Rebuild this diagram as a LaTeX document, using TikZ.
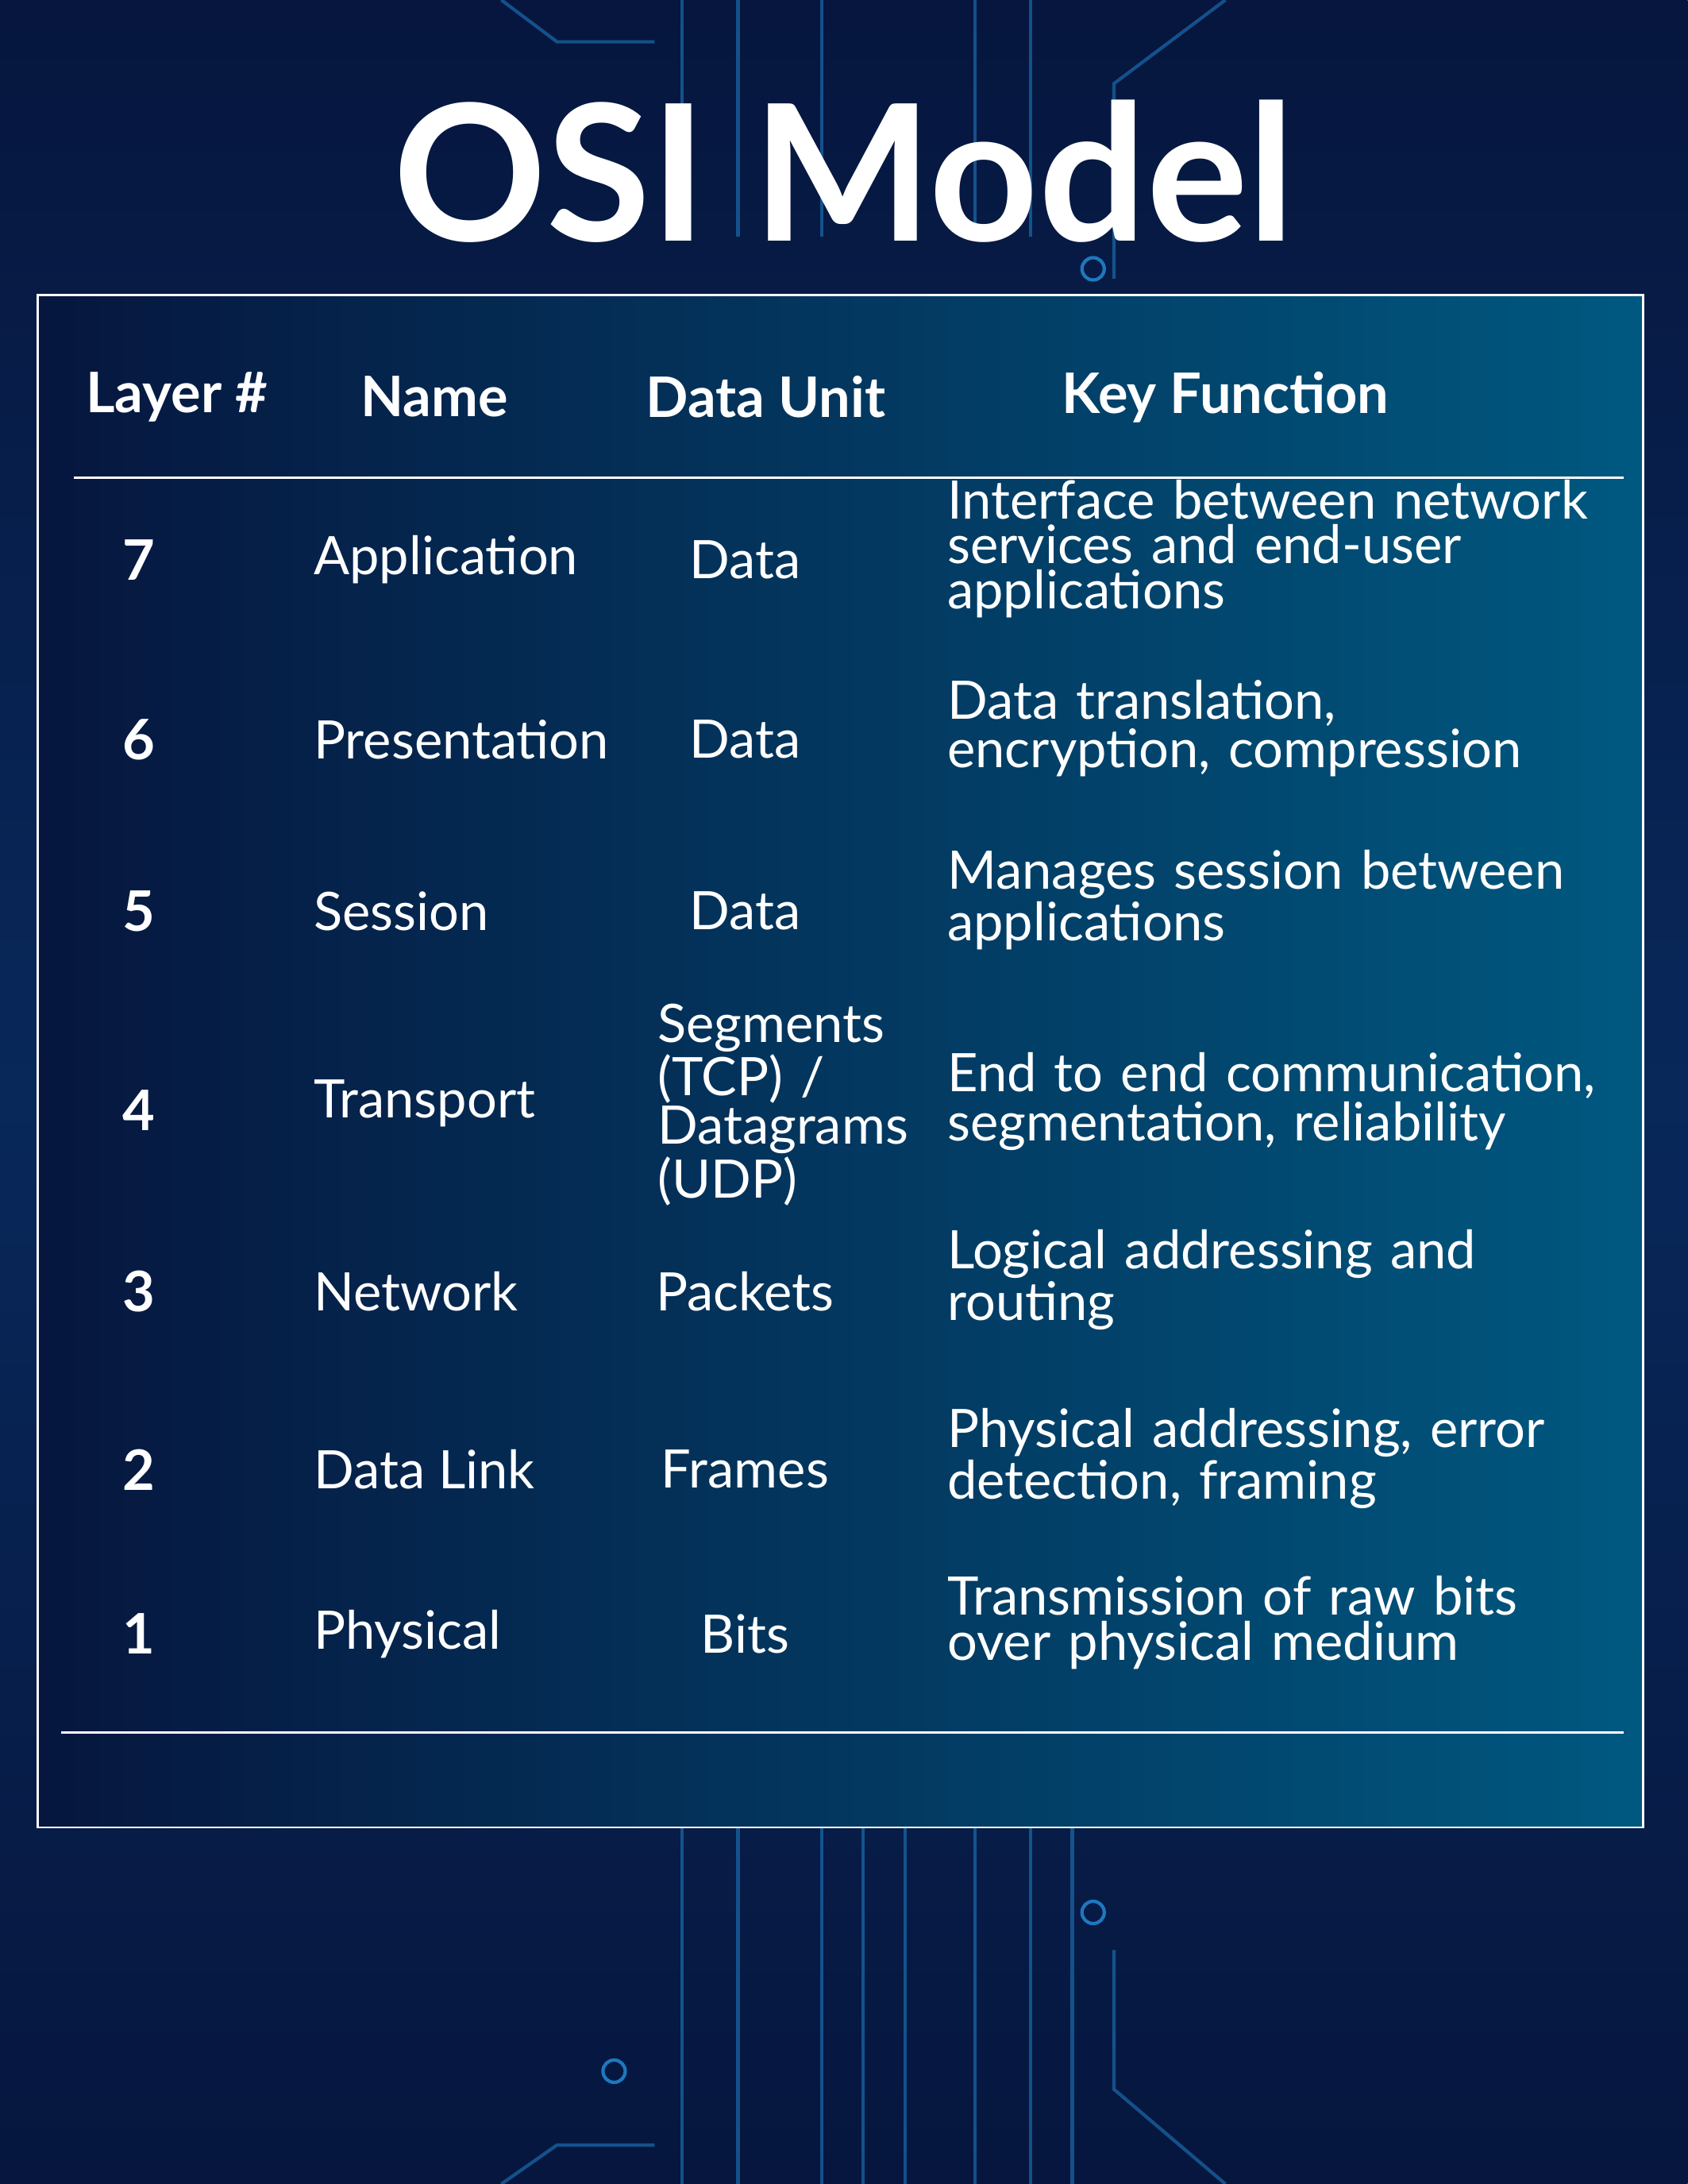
\documentclass[tikz,border=0pt]{standalone}
\usepackage{fontspec}
\setmainfont{Lato}
\usetikzlibrary{positioning}
\definecolor{navy}{RGB}{6,22,62}
\definecolor{deepblue}{RGB}{8,40,90}
\definecolor{teal}{RGB}{0,88,128}
\definecolor{trace}{RGB}{30,120,190}
\tikzset{
  cell/.style={text=white, inner sep=0pt, font=\fontsize{19}{16}\selectfont},
  head/.style={text=white, inner sep=0pt, font=\fontsize{20}{20}\selectfont\bfseries},
  func/.style={cell, anchor=west, text width=235pt, align=left},
  trace/.style={draw=trace, line width=1.2pt}
}
\begin{document}
\hyphenpenalty10000
\exhyphenpenalty10000
\begin{tikzpicture}[x=0.01753cm, y=-0.01753cm]
  \useasboundingbox (0,0) rectangle (1212,1568);
  \shade[top color=navy, bottom color=navy, middle color=deepblue] (0,0) rectangle (1212,1568);
  % circuit traces
  \foreach \x/\y in {490/0, 530/0, 590/0, 700/0, 740/0}
    \draw[trace, opacity=0.6] (\x,\y) -- (\x,170);
  \draw[trace, opacity=0.6] (360,0) -- (400,30) -- (470,30);
  \draw[trace, opacity=0.6] (880,0) -- (800,60) -- (800,200);
  \foreach \x in {490,530,590,620,650,700,740,770}
    \draw[trace, opacity=0.6] (\x,1312) -- (\x,1568);
  \draw[trace, opacity=0.6] (360,1568) -- (400,1540) -- (470,1540);
  \draw[trace, opacity=0.6] (880,1568) -- (800,1500) -- (800,1400);
  \draw[trace] (785,193) circle (8);
  \draw[trace] (785,1373) circle (8);
  \draw[trace] (441,1487) circle (8);
  % table panel
  \shade[shading angle=135, left color=navy, right color=teal, draw=white, line width=0.8pt]
    (27,212) rectangle (1180,1312);
  \node (title) [text=white, inner sep=0pt, font=\fontsize{68}{68}\selectfont\bfseries] at (606,123) {OSI Model};
  % header
  \node (hlayer) [head] at (127,285) {Layer \#};
  \node (hname) [head] at (312,285) {Name};
  \node (hunit) [head] at (550,285) {Data Unit};
  \node (hfunc) [head] at (880,285) {Key Function};
  \draw[white, line width=0.8pt] (53,343) -- (1166,343);
  \draw[white, line width=0.8pt] (44,1244) -- (1166,1244);
  % rows
  \foreach \n/\y/\name/\unit/\fn in {
      7/402/Application/Data/{Interface between network services and end-user applications},
      6/531/Presentation/Data/{Data translation, encryption, compression},
      5/654/Session/Data/{Manages session between applications},
      3/927/Network/Packets/{Logical addressing and routing},
      2/1055/Data Link/Frames/{Physical addressing, error detection, framing},
      1/1173/Physical/Bits/{Transmission of raw bits over physical medium}} {
    \node (num\n) [cell, font=\fontsize{20}{20}\selectfont\bfseries] at (100,\y) {\n};
    \node (name\n) [cell, anchor=west] at (225,\y) {\name};
    \node (unit\n) [cell] at (535,\y) {\unit};
    \node (func\n) [func] at (680,\y-8) {\fn};
  }
  \node (num4) [cell, font=\fontsize{20}{20}\selectfont\bfseries] at (100,797) {4};
  \node (name4) [cell, anchor=west] at (225,792) {Transport};
  \node (unit4) [cell, anchor=west, text width=90pt, align=left] at (472,793) {Segments (TCP) / Datagrams (UDP)};
  \node (func4) [func] at (680,791) {End to end communication, segmentation, reliability};
\end{tikzpicture}
\end{document}
